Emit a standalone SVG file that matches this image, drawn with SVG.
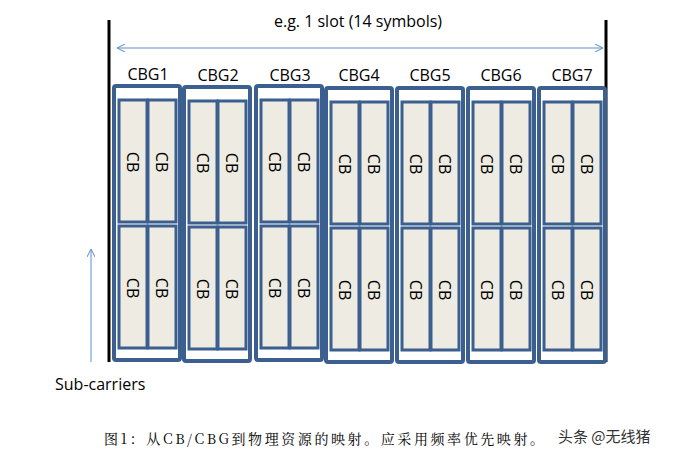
<svg xmlns="http://www.w3.org/2000/svg" width="678" height="459" viewBox="0 0 678 459">
<style>
.o{fill:#fff;stroke:#3b5f8f;stroke-width:4}
.c{fill:#eeebe2;stroke:#3b5f8f;stroke-width:3}
.t{font-family:"Open Sans","Noto Sans","Liberation Sans",sans-serif;font-size:16px;fill:#000}
.cb{font-family:"Open Sans","Noto Sans","Liberation Sans",sans-serif;font-size:16px;fill:#000;text-anchor:middle}
.l{stroke:#5b8ec9;stroke-width:1;fill:none}
</style>
<defs>
<marker id="a" markerWidth="8" markerHeight="8" refX="7" refY="4" orient="auto-start-reverse" markerUnits="userSpaceOnUse"><path d="M0,0 L8,4 L0,8" fill="none" stroke="#5b8ec9" stroke-width="1"/></marker>
<g id="cbg">
<rect class="o" x="0" y="0" width="66" height="274" rx="2"/>
<rect class="c" x="5" y="14" width="28" height="122"/>
<rect class="c" x="34" y="14" width="28" height="122"/>
<rect class="c" x="5" y="140" width="28" height="122"/>
<rect class="c" x="34" y="140" width="28" height="122"/>
<text class="cb" transform="translate(13,76) rotate(90)">CB</text>
<text class="cb" transform="translate(42,76) rotate(90)">CB</text>
<text class="cb" transform="translate(13,202) rotate(90)">CB</text>
<text class="cb" transform="translate(42,202) rotate(90)">CB</text>
</g>
</defs>
<rect width="678" height="459" fill="#fff"/>
<g id="frame">
<line x1="109" y1="20" x2="109" y2="362" stroke="#000" stroke-width="3"/>
<line x1="606" y1="20" x2="606" y2="362" stroke="#000" stroke-width="3"/>
</g>
<g id="connectors">
<line class="l" x1="118" y1="48" x2="602" y2="48" marker-start="url(#a)" marker-end="url(#a)"/>
<line class="l" x1="91" y1="362" x2="91" y2="250" marker-end="url(#a)"/>
</g>
<text class="t" x="358" y="27" text-anchor="middle">e.g. 1 slot (14 symbols)</text>
<g id="cbg1"><text class="t" x="148" y="80" text-anchor="middle">CBG1</text><use href="#cbg" x="114" y="86"/></g>
<g id="cbg2"><text class="t" x="218" y="81" text-anchor="middle">CBG2</text><use href="#cbg" x="184" y="87"/></g>
<g id="cbg3"><text class="t" x="290" y="81" text-anchor="middle">CBG3</text><use href="#cbg" x="256" y="86"/></g>
<g id="cbg4"><text class="t" x="359" y="81" text-anchor="middle">CBG4</text><use href="#cbg" x="326" y="88"/></g>
<g id="cbg5"><text class="t" x="430" y="81" text-anchor="middle">CBG5</text><use href="#cbg" x="397" y="88"/></g>
<g id="cbg6"><text class="t" x="501" y="81" text-anchor="middle">CBG6</text><use href="#cbg" x="468" y="88"/></g>
<g id="cbg7"><text class="t" x="572" y="81" text-anchor="middle">CBG7</text><use href="#cbg" x="539" y="88"/></g>
<text class="t" x="55" y="390">Sub-carriers</text>
<text x="104" y="444" textLength="440" style="font-family:'Noto Serif CJK SC','Noto Sans CJK SC',serif;font-size:14px" fill="#000">图1：从CB/CBG到物理资源的映射。应采用频率优先映射。</text>
<text x="558" y="442" style="font-family:'Noto Sans CJK SC',sans-serif;font-size:15px" fill="#333">头条 @无线猪</text>
</svg>
